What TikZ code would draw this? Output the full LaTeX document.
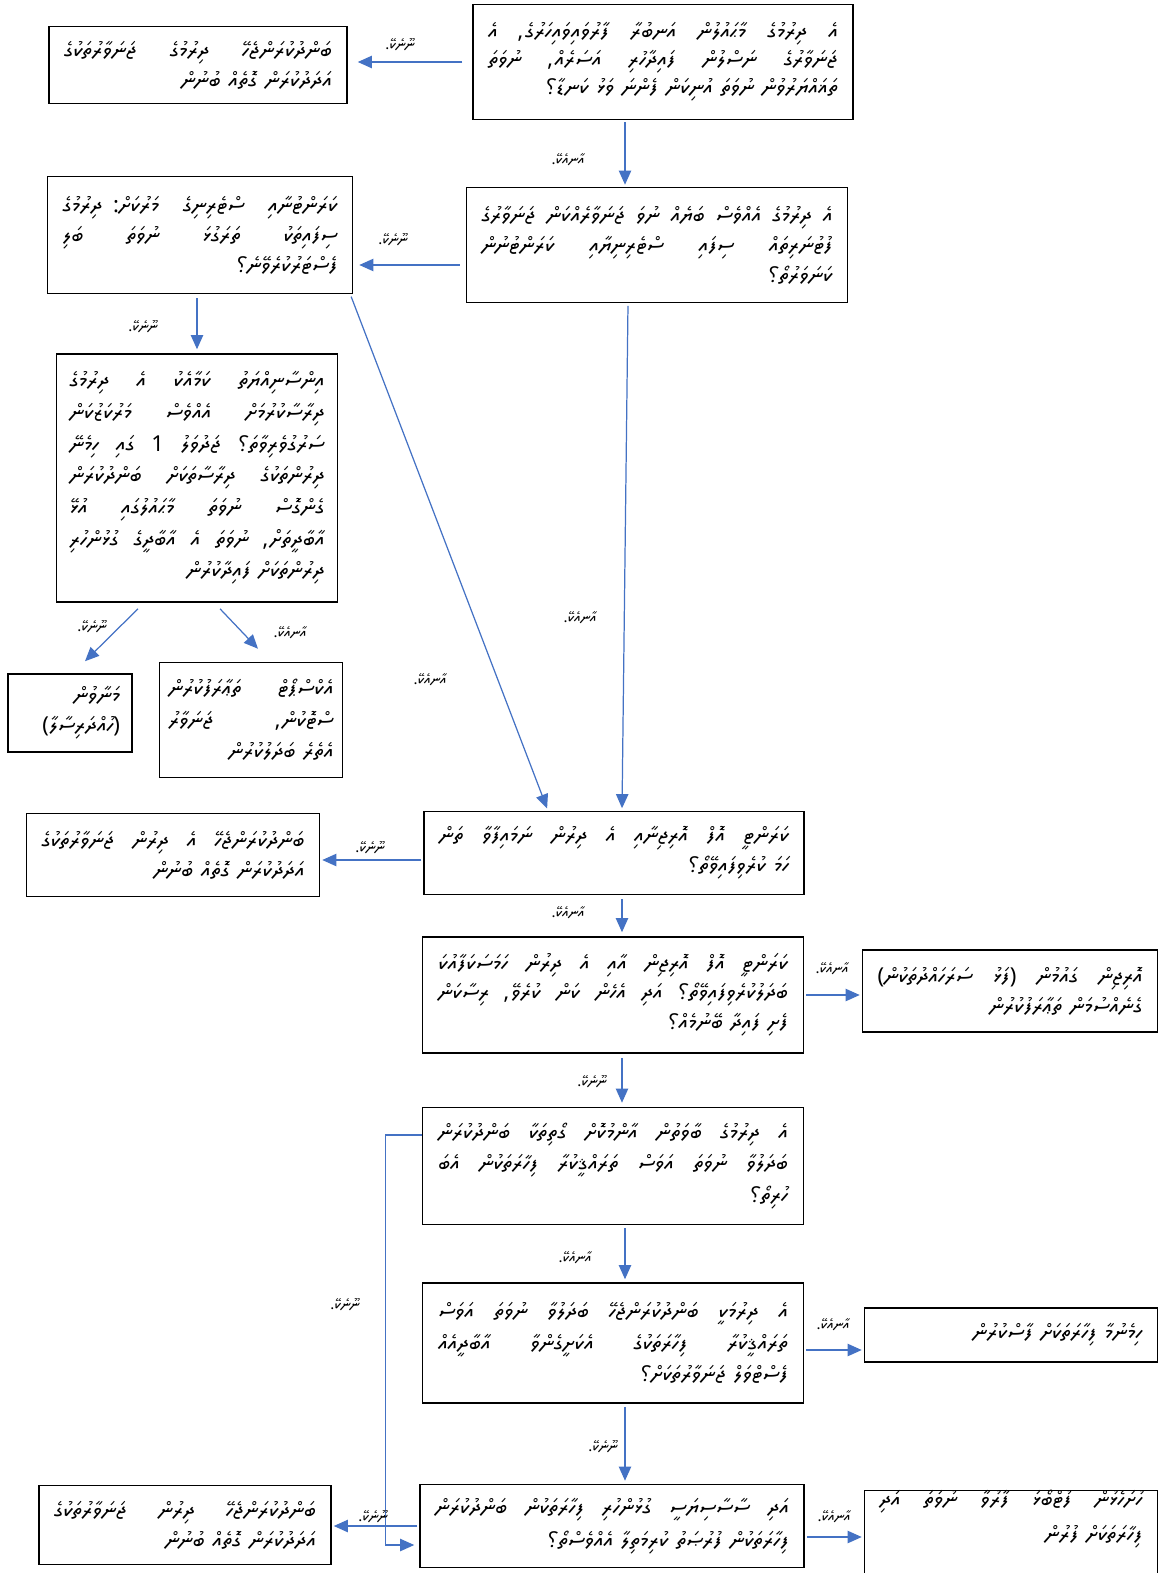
\documentclass[tikz,border=0pt]{standalone}
\usepackage{fontspec}
\newfontfamily\thaana[Script=Thaana]{Noto Sans Thaana}
\TeXXeTstate=1
\usetikzlibrary{positioning}
\usetikzlibrary{calc}
\usetikzlibrary{arrows.meta}
\definecolor{flowblue}{RGB}{68,114,196}
\hbadness=10000
\hfuzz=20pt
% one full (spread) line and one short line, right to left
\newcommand{\jl}[1]{\hbox to\hsize{\spaceskip=0.3em plus 1fil\relax\beginR #1\endR}}
\newcommand{\rl}[1]{\hbox to\hsize{\spaceskip=0.35em plus 0.1em\relax\hfill\beginR #1\endR}}
\newcommand{\yes}{\beginR އާނއެކޭ.\endR}
\newcommand{\no}{\beginR ނޫނެކޭ.\endR}

\begin{document}
\begin{tikzpicture}[x=0.02cm, y=-0.02cm,
    box/.style={draw, line width=0.9pt, inner xsep=0.3cm, inner ysep=0pt,
      font=\thaana\fontsize{12.5}{17}\selectfont},
    ans/.style={font=\thaana\fontsize{8.5}{9}\selectfont, inner sep=1pt},
    arr/.style={draw=flowblue, line width=0.7pt, -{Triangle[width=7pt,length=8pt]}},
    gap/.style={shorten <=#1, shorten >=#1}]
  \useasboundingbox (0,0) rectangle (1163,1573);

  % questions down the middle
  \node[box, minimum width=7.6cm, minimum height=2.3cm, text width=7cm,
    font=\thaana\fontsize{12.5}{16}\selectfont] (q1) at (663,62)
    {\jl{އެ ދިރުމުގެ މާޙައުލުން އަނބުރާ ފާރުވައިވައިހަރުގެ، އެ}
     \jl{ޖަނަވާރުގެ ނަސްލުން ފައިދާހުރި އަސަރެއް، ނުވަތަ}
     \rl{ތަޣައްޔަރުވުން ނުވަތަ އުނިކަން ފެންނަ ވަޅު ކަނޑާ؟}};
  \node[box, minimum width=7.62cm, minimum height=2.3cm, text width=7.02cm] (q2) at (657,245)
    {\jl{އެ ދިރުމުގެ އެއްވެސް ބަޔެއް ނުވަ ޖަނަވާރެއްކަން ޖަނަވާރުގެ}
     \jl{ފުޓުނަރިތައް ސިފައި ސްޓެރިނިޔާއި ކަރަންޓުނުން}
     \rl{ކަނަވަރުތޯ؟}};
  \node[box, minimum width=6.1cm, minimum height=2.34cm, text width=5.5cm] (q3) at (200,235)
    {\jl{ކަރަންޓުނާއި ސްޓެރިނިގެ މަރުކަށް: ދިރުމުގެ}
     \jl{ސިފައިތަކު ތަރަގުޅަ ނުވަތަ ބަލި}
     \rl{ފެސްޓަރުކުރެވޭނެ؟}};
  \node[box, minimum width=5.62cm, minimum height=4.96cm, text width=5.1cm, inner xsep=0.26cm,
    font=\thaana\fontsize{12.5}{18}\selectfont] (q4) at (197,478)
    {\jl{އިންސާނިއްޔަތު ކަމާއެކު އެ ދިރުމުގެ}
     \jl{ދިރާސާކުރުމަށް އެއްވެސް މަރުކަޒުކަން}
     \jl{ސަރުގުވެރިވާތަ؟ ޖަދުވަލު 1 ގައި ހިމެނޭ}
     \jl{ދިރުންތަކުގެ ދިރާސާތަކަށް ބަންދުކުރަން}
     \jl{ގެންގޮސް ނުވަތަ މާޙައުލުގައި އުޅޭ}
     \jl{އާބާދީތަށް، ނުވަތަ އެ އާބާދީގެ ގުޅުންހުރި}
     \rl{ދިރުންތަކަށް ފައިދާކުރުން}};
  \node[box, minimum width=7.58cm, minimum height=1.66cm, text width=7cm] (q5) at (614,853)
    {\jl{ކަރަންޓީ އޮފް އޮރިޖިނާއި އެ ދިރުން ނަމައިފާވާ ތަން}
     \rl{ހަމަ ކުރެވިފައިވޭތޯ؟}};
  \node[box, minimum width=7.62cm, minimum height=2.32cm, text width=7cm] (q6) at (613,995)
    {\jl{ކަރަންޓީ އޮފް އޮރިޖިން އާއި އެ ދިރުން ހަމަސަކަފާއުކަ}
     \jl{ބަދަލުކުރެވިފައިވޭތޯ؟ އަދި އެހެން ކަން ކުރެވޭ، ރިސާކަން}
     \rl{ފެށި ފައިދާ ބޭނުމެއް؟}};
  \node[box, minimum width=7.62cm, minimum height=2.34cm, text width=7cm,
    font=\thaana\fontsize{12.5}{18}\selectfont] (q7) at (613,1166)
    {\jl{އެ ދިރުމުގެ ބާވަތުން އާންމުކޮށް ގޯތިތަކާ ބަންދުކުރަން}
     \jl{ބަދަލުވާ ނުވަތަ އަވަސް ތަރައްޤީކުރާ ފިހާރަތަކުން އެބަ}
     \rl{ހުރިތޯ؟}};
  \node[box, minimum width=7.62cm, minimum height=2.4cm, text width=7cm,
    font=\thaana\fontsize{12.5}{18}\selectfont] (q8) at (613,1343)
    {\jl{އެ ދިރުމަކީ ބަންދުކުރަންޖެހޭ ބަދަލުވާ ނުވަތަ އަވަސް}
     \jl{ތަރައްޤީކުރާ ފިހާރަތަކުގެ އެކަށީގެންވާ އާބާދީއެއް}
     \rl{ފެސްޓްވަލް ޖަނަވާރުތަކަށް؟}};
  \node[box, minimum width=7.68cm, minimum height=1.66cm, text width=7.08cm,
    font=\thaana\fontsize{12.5}{19}\selectfont] (q9) at (612,1526)
    {\jl{އަދި ސާސާސިޔަސީ ގުޅުންހުރި ފިހާރަތަކުން ބަންދުކުރަން}
     \rl{ފިހާރަތަކުން ފުރުޞަތު ކުރިމަތިލާ އެއްވެސްތޯ؟}};

  % results
  \node[box, minimum width=5.96cm, minimum height=1.54cm, text width=5.36cm] (r1) at (198,65)
    {\jl{ބަންދުކުރަންޖެހޭ ދިރުމުގެ ޖަނަވާރުތަކުގެ}
     \rl{އަދަދުކުރަން ގޮތެއް ބުނުން}};
  \node[box, minimum width=2.48cm, minimum height=1.56cm, text width=2cm, inner xsep=0.24cm] (r2) at (70,713)
    {\rl{މަނާވުން}
     \rl{(ހުއްދަރިސާލާ)}};
  \node[box, minimum width=3.66cm, minimum height=2.3cm, text width=3.3cm, inner xsep=0.18cm,
    font=\thaana\fontsize{12.5}{18}\selectfont] (r3) at (251,720)
    {\jl{އެކްސްޕޯޓް ތަޢާރަފުކުރުން}
     \jl{ސްޓޮކުން، ޖަނަވާރު}
     \rl{އެތެރެ ބަދަލުކުރުން}};
  \node[box, minimum width=5.86cm, minimum height=1.66cm, text width=5.26cm] (r4) at (173,855)
    {\jl{ބަންދުކުރަންޖެހޭ އެ ދިރުން ޖަނަވާރުތަކުގެ}
     \rl{އަދަދުކުރަން ގޮތެއް ބުނުން}};
  \node[box, minimum width=5.9cm, minimum height=1.64cm, text width=5.3cm] (r5) at (1010,991)
    {\jl{އޮރިޖިން ގައުމުން (ފަޅު ސަރަހައްދުތަކުން)}
     \rl{ގެނެއްސުމަން ތަޢާރަފުކުރުން}};
  \node[box, minimum width=5.86cm, minimum height=1.08cm, text width=5.26cm] (r6) at (1011,1335)
    {\rl{ހިމެނުމާ ފިހާރަތަކަށް ފާސްކުރުން}};
  \node[box, minimum width=5.84cm, minimum height=1.58cm, text width=5.24cm] (r7) at (185,1525)
    {\jl{ބަންދުކުރަންޖެހޭ ދިރުން ޖަނަވާރުތަކުގެ}
     \rl{އަދަދުކުރަން ގޮތެއް ބުނުން}};
  \node[box, minimum width=5.86cm, minimum height=1.9cm, text width=5.26cm,
    font=\thaana\fontsize{12.5}{20}\selectfont] (r8) at (1011,1540)
    {\jl{ހުށަހެޅުން ފުޓްބޯޅަ ފާރުވާ ނުވަތަ އަދި}
     \rl{ފިހާރަތަކަށް ފުރުން}
     \vspace{0.25cm}};

  % connectors
  \draw[arr, gap=0.2cm] (q1.west) -- (q1.west -| r1.east);
  \coordinate (a1) at ([xshift=-0.76cm]q1.south);
  \draw[arr, gap=0.04cm] (a1) -- (a1 |- q2.north);
  \coordinate (a2) at ([yshift=-0.4cm]q2.west);
  \draw[arr, gap=0.12cm] (a2) -- (a2 -| q3.east);
  \coordinate (a3) at ([xshift=-0.58cm]q2.south);
  \coordinate (a4) at ([xshift=0.16cm]q5.north);
  \draw[arr, gap=0.05cm] (a3) -- (a4);
  \draw[arr, gap=0.08cm] (q3.south -| q4.north) -- (q4.north);
  \coordinate (a5) at ([xshift=-0.06cm]q3.south east);
  \draw[arr, gap=0.05cm] (a5) -- ([xshift=-1.32cm]q5.north);
  \draw[arr] ([xshift=-1.18cm, yshift=-0.12cm]q4.south) -- ([xshift=0.3cm, yshift=0.24cm]r2.north);
  \draw[arr] ([xshift=0.46cm, yshift=-0.12cm]q4.south) -- ([xshift=0.14cm, yshift=0.26cm]r3.north);
  \coordinate (a6) at ([yshift=-0.14cm]q5.west);
  \draw[arr, gap=0.04cm] (a6) -- (a6 -| r4.east);
  \coordinate (a7) at ([xshift=0.16cm]q5.south);
  \draw[arr, gap=0.08cm] (a7) -- (a7 |- q6.north);
  \draw[arr, gap=0.04cm] (q6.east) -- (q6.east -| r5.west);
  \coordinate (a8) at ([xshift=0.18cm]q6.south);
  \draw[arr, gap=0.08cm] (a8) -- (a8 |- q7.north);
  \coordinate (a9) at ([xshift=0.24cm]q7.south);
  \draw[arr, gap=0.06cm] (a9) -- (a9 |- q8.north);
  \coordinate (a10) at ([yshift=-0.14cm]q8.east);
  \draw[arr, gap=0.04cm] (a10) -- (a10 -| r6.west);
  \coordinate (a11) at ([xshift=0.24cm]q8.south);
  \draw[arr, gap=0.06cm] (a11) -- (a11 |- q9.north);
  \coordinate (a12) at ([yshift=0.62cm]q7.west);
  \coordinate (a13) at ([yshift=-0.38cm]q9.west);
  \draw[arr, shorten >=0.1cm] (a12) -- ++(-36,0) |- (a13);
  \draw[arr, gap=0.04cm] (q9.west) -- (q9.west -| r7.east);
  \coordinate (a14) at ([yshift=-0.22cm]q9.east);
  \draw[arr, gap=0.04cm] (a14) -- (a14 -| r8.west);

  % yes / no labels
  \node[ans] (l1) at (400,45) {\no};
  \node[ans] (l2) at (568,160) {\yes};
  \node[ans] (l3) at (393,240) {\no};
  \node[ans] (l4) at (143,327) {\no};
  \node[ans] (l5) at (580,618) {\yes};
  \node[ans] (l6) at (430,680) {\yes};
  \node[ans] (l7) at (92,627) {\no};
  \node[ans] (l8) at (290,633) {\yes};
  \node[ans] (l9) at (370,848) {\no};
  \node[ans] (l10) at (568,913) {\yes};
  \node[ans] (l11) at (832,969) {\yes};
  \node[ans] (l12) at (592,1082) {\no};
  \node[ans] (l13) at (575,1258) {\yes};
  \node[ans] (l14) at (345,1305) {\no};
  \node[ans] (l15) at (833,1325) {\yes};
  \node[ans] (l16) at (603,1447) {\no};
  \node[ans] (l17) at (373,1517) {\no};
  \node[ans] (l18) at (834,1517) {\yes};
\end{tikzpicture}
\end{document}
